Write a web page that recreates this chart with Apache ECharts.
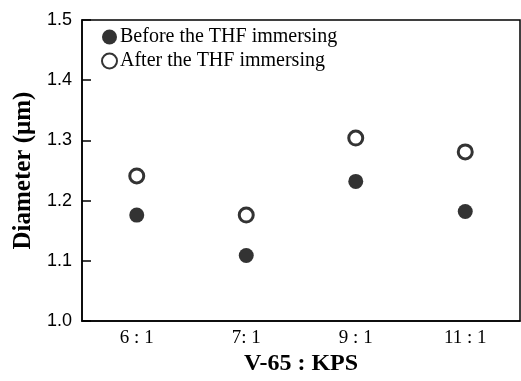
<!DOCTYPE html>
<html>
<head>
<meta charset="utf-8">
<script src="https://cdn.jsdelivr.net/npm/echarts@6/dist/echarts.min.js"></script>
<style>
  html, body { margin: 0; padding: 0; background: #fff; }
  #chart { width: 521px; height: 381px; }
</style>
</head>
<body>
<div id="chart"></div>
<script>
// ratio categories on the x axis
var ratios = ['6 : 1', '7: 1', '9 : 1', '11 : 1'];
// diameters (um)
var beforeTHF = [1.176, 1.109, 1.232, 1.182];
var afterTHF = [1.241, 1.176, 1.304, 1.281];

var serif = '"Liberation Serif", "DejaVu Serif", serif';
var sans = '"Liberation Sans", Arial, sans-serif';

var chart = echarts.init(document.getElementById('chart'));

var option = {
    animation: false,
    backgroundColor: '#fff',
    grid: {
        left: 82,
        right: 1,
        top: 20,
        bottom: 48,
        show: true,
        borderColor: '#000',
        borderWidth: 1.5
    },
    legend: {
        orient: 'vertical',
        left: 96,
        top: 22,
        itemWidth: 15,
        itemHeight: 15,
        itemGap: 4,
        icon: 'circle',
        textStyle: { fontFamily: serif, fontSize: 20, color: '#000', padding: [0, 0, 0, -2] },
        data: ['Before the THF immersing', 'After the THF immersing']
    },
    xAxis: {
        type: 'category',
        data: ratios,
        name: 'V-65 : KPS',
        nameLocation: 'middle',
        nameGap: 25,
        nameTextStyle: { fontFamily: serif, fontSize: 24, fontWeight: 'bold', color: '#000' },
        axisLine: { lineStyle: { color: '#000', width: 1.5 } },
        axisTick: { inside: true, length: 8, alignWithLabel: true, lineStyle: { color: '#000', width: 1.5 } },
        axisLabel: { fontFamily: serif, fontSize: 19, color: '#000', margin: 7 },
        splitLine: { show: false }
    },
    yAxis: {
        type: 'value',
        min: 1.0,
        max: 1.5,
        interval: 0.1,
        name: 'Diameter (\u03bcm)',
        nameLocation: 'middle',
        nameGap: 46,
        nameRotate: 90,
        nameTextStyle: { fontFamily: serif, fontSize: 25, fontWeight: 'bold', color: '#000' },
        axisLine: { show: true, lineStyle: { color: '#000', width: 1.5 } },
        axisTick: { show: true, inside: true, length: 9, lineStyle: { color: '#000', width: 1.5 } },
        axisLabel: {
            fontFamily: sans, fontSize: 18, color: '#000', margin: 10,
            formatter: function (v) { return v.toFixed(1); }
        },
        splitLine: { show: false }
    },
    series: [
        {
            name: 'Before the THF immersing',
            type: 'scatter',
            data: beforeTHF,
            symbol: 'circle',
            symbolSize: 15,
            itemStyle: { color: '#000' }
        },
        {
            name: 'After the THF immersing',
            type: 'scatter',
            data: afterTHF,
            symbol: 'circle',
            symbolSize: 14,
            itemStyle: { color: '#fff', borderColor: '#000', borderWidth: 3 }
        }
    ]
};

chart.setOption(option);
</script>
</body>
</html>
